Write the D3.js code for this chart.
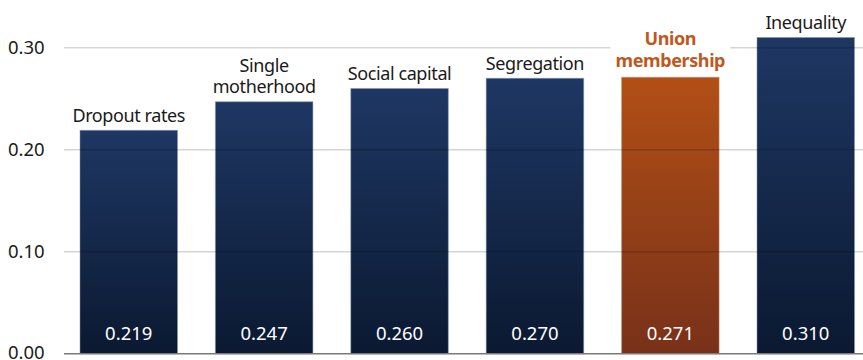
<!DOCTYPE html>
<html><head><meta charset="utf-8">
<script src="https://cdn.jsdelivr.net/npm/d3@7"></script>
<style>body{margin:0;background:#fff}svg{display:block}</style>
</head><body>
<svg id="c" width="863" height="360"></svg>
<script>
const categories = ["Dropout rates", "Single\nmotherhood", "Social capital", "Segregation", "Union\nmembership", "Inequality"];
const values = [0.219, 0.247, 0.260, 0.270, 0.271, 0.310];
const highlight = [false, false, false, false, true, false];
const yTicks = [0, 0.10, 0.20, 0.30];

const svg = d3.select("#c");
const W = 863, H = 360;
const y = d3.scaleLinear().domain([0, 0.3]).range([353.7, 47.7]);
const x = d3.scaleBand().domain(categories).range([61.05, 873.45]).paddingInner(0.28).paddingOuter(0.14);
const font = "'Noto Sans', 'Open Sans', sans-serif";

const defs = svg.append("defs");
const gB = defs.append("linearGradient").attr("id", "gb").attr("x1", 0).attr("y1", 0).attr("x2", 0).attr("y2", 1);
gB.append("stop").attr("offset", "0%").attr("stop-color", "#1e3763");
gB.append("stop").attr("offset", "100%").attr("stop-color", "#0b1931");
const gO = defs.append("linearGradient").attr("id", "go").attr("x1", 0).attr("y1", 0).attr("x2", 0).attr("y2", 1);
gO.append("stop").attr("offset", "0%").attr("stop-color", "#b24f16");
gO.append("stop").attr("offset", "100%").attr("stop-color", "#783119");

// bars
svg.append("g").selectAll("rect").data(categories).join("rect")
  .attr("x", d => x(d)).attr("width", x.bandwidth())
  .attr("y", (d, i) => y(values[i])).attr("height", (d, i) => y(0) - y(values[i]))
  .attr("fill", (d, i) => highlight[i] ? "url(#go)" : "url(#gb)")
  .attr("stroke", (d, i) => highlight[i] ? "#c98a66" : "#7f8fae").attr("stroke-opacity", 0.5).attr("stroke-width", 1);

// gridlines (drawn over bars, translucent)
const grid = svg.append("g");
grid.selectAll("line").data(yTicks.filter(t => t > 0)).join("line")
  .attr("x1", 64).attr("x2", W).attr("y1", d => y(d)).attr("y2", d => y(d))
  .attr("stroke", "#000").attr("stroke-opacity", 0.17).attr("stroke-width", 1.5);
// baseline
svg.append("line").attr("x1", 64).attr("x2", W).attr("y1", y(0)).attr("y2", y(0))
  .attr("stroke", "#7a7a7a").attr("stroke-width", 1.6);

// y labels
svg.append("g").selectAll("text").data(yTicks).join("text")
  .attr("x", 8).attr("y", d => y(d) + (d === 0 ? 5 : 6.5))
  .attr("font-family", font).attr("font-size", 18.5).attr("fill", "#1a1a1a")
  .text(d => d3.format(".2f")(d));

// category labels
const lab = svg.append("g");
categories.forEach((c, i) => {
  const lines = c.split("\n");
  const cx = x(c) + x.bandwidth() / 2;
  const base = y(values[i]) - (highlight[i] ? 10.5 : 8.5);
  const lh = 21.5;
  const g = lab.append("g");
  if (highlight[i]) {
    g.append("rect").attr("x", cx - 60).attr("y", base - lh * (lines.length - 1) - 18)
      .attr("width", 120).attr("height", lh * (lines.length - 1) + 24).attr("fill", "#fff");
  }
  const t = g.append("text").attr("text-anchor", "middle").attr("font-family", font)
    .attr("font-size", 18).attr("font-weight", highlight[i] ? 700 : 400)
    .attr("fill", highlight[i] ? "#c0581e" : "#1a1a1a")
    .attr("letter-spacing", -0.4);
  lines.forEach((l, j) => {
    t.append("tspan").attr("x", cx).attr("y", base - lh * (lines.length - 1 - j)).text(l);
  });
});

// value labels
svg.append("g").selectAll("text").data(categories).join("text")
  .attr("x", d => x(d) + x.bandwidth() / 2).attr("y", 340)
  .attr("text-anchor", "middle").attr("font-family", font).attr("font-size", 18.5)
  .attr("fill", "#fff")
  .text((d, i) => d3.format(".3f")(values[i]));
</script>
</body></html>
